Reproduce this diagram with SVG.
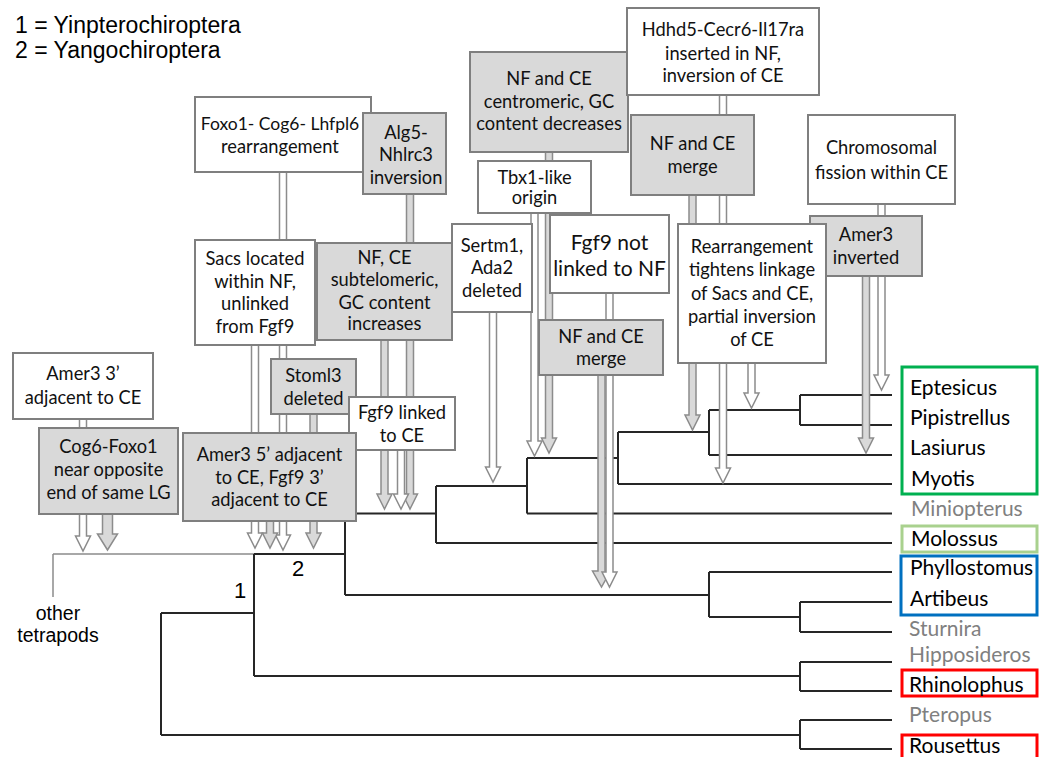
<svg xmlns="http://www.w3.org/2000/svg" width="1045" height="757" viewBox="0 0 1045 757">
<style>
.bw{fill:#fff;stroke:#7f7f7f;stroke-width:2}
.bg{fill:#d9d9d9;stroke:#7f7f7f;stroke-width:2}
.t{font-family:Lato,"Open Sans",sans-serif;font-size:18.3px;fill:#111;text-anchor:middle}
.aw{fill:#fff;stroke:#8c8c8c;stroke-width:1.5;stroke-linejoin:miter}
.ag{fill:#d9d9d9;stroke:#8c8c8c;stroke-width:1.5;stroke-linejoin:miter}
.tr{stroke:#262626;stroke-width:2;fill:none}
.og{stroke:#8c8c8c;stroke-width:1.5;fill:none}
.tx{font-family:Lato,"Open Sans",sans-serif;font-size:21px;fill:#000}
.txg{font-family:Lato,"Open Sans",sans-serif;font-size:21px;fill:#808080}
.ar{font-family:"Liberation Sans",Arial,sans-serif;fill:#000}
.cb{fill:none;stroke-width:3}
</style>
<g id="legend">
<text class="ar" x="15" y="33" font-size="23">1 = Yinpterochiroptera</text>
<text class="ar" x="15" y="58" font-size="23">2 = Yangochiroptera</text>
</g>
<g id="tree">
<path class="og" d="M53,554 H254 M53,554 V597"/>
<path class="tr" d="M800,395 H892 M800,425 H892 M800,395 V425 M709,410 H800 M709,455 H892 M709,410 V455 M618,432 H709 M618,484 H892 M618,432 V484 M527,458 H618 M527,513.5 H892 M527,458 V513.5 M436,486 H527 M436,543 H892 M436,486 V543 M345,513.5 H436 M345,513.5 V595 M345,595 H709 M709,572 V617 M709,572 H892 M709,617 H800 M800,602 V632 M800,602 H892 M800,632 H892 M254,554 H345 M254,554 V676 M254,676 H800 M800,662 V691 M800,662 H892 M800,691 H892 M161,613 H254 M161,613 V735 M161,735 H800 M800,720 V749 M800,720 H892 M800,749 H892"/>
<text class="ar" x="298" y="576" font-size="22" text-anchor="middle">2</text>
<text class="ar" x="240" y="598" font-size="22" text-anchor="middle">1</text>
<text class="ar" x="58" y="620" font-size="19.5" text-anchor="middle">other</text>
<text class="ar" x="58" y="642" font-size="19.5" text-anchor="middle">tetrapods</text>
</g>
<g id="connectors">
<polygon class="aw" points="79.5,415 79.5,536 75.5,536 83,551 90.5,536 86.5,536 86.5,415"/>
<polygon class="ag" points="102.5,510 102.5,534 97.5,534 107.5,550 117.5,534 112.5,534 112.5,510"/>
<polygon class="aw" points="279.5,168 279.5,535 275.5,535 283,550 290.5,535 286.5,535 286.5,168"/>
<polygon class="ag" points="406.5,190 406.5,494 402.5,494 410,509 417.5,494 413.5,494 413.5,190"/>
<polygon class="aw" points="251.5,341 251.5,533 247.5,533 255,548 262.5,533 258.5,533 258.5,341"/>
<polygon class="ag" points="381,336 381,494 377,494 384.5,509 392,494 388,494 388,336"/>
<polygon class="ag" points="310,410 310,533 306,533 313.5,548 321,533 317,533 317,410"/>
<polygon class="ag" points="266.5,517 266.5,533 262.5,533 270,548 277.5,533 273.5,533 273.5,517"/>
<polygon class="aw" points="397.5,446 397.5,494 393.5,494 401,509 408.5,494 404.5,494 404.5,446"/>
<polygon class="aw" points="489.5,308 489.5,467 485.5,467 493,482 500.5,467 496.5,467 496.5,308"/>
<polygon class="ag" points="545.5,148 545.5,438 541.5,438 549,453 556.5,438 552.5,438 552.5,148"/>
<polygon class="aw" points="531,209 531,441 527,441 534.5,456 542,441 538,441 538,209"/>
<polygon class="ag" points="598,371 598,571 592.5,571 601.5,587 610.5,571 605,571 605,371"/>
<polygon class="aw" points="606,289 606,572 602,572 609.5,587 617,572 613,572 613,289"/>
<polygon class="aw" points="719.5,91 719.5,468 715.5,468 723,483 730.5,468 726.5,468 726.5,91"/>
<polygon class="ag" points="689,191 689,415 685,415 692.5,430 700,415 696,415 696,191"/>
<polygon class="aw" points="748,359 748,393 744,393 751.5,408 759,393 755,393 755,359"/>
<polygon class="aw" points="878,200 878,375 874,375 881.5,390 889,375 885,375 885,200"/>
<polygon class="ag" points="862.5,272 862.5,438 858.5,438 866,453 873.5,438 869.5,438 869.5,272"/>
</g>
<g id="n-amer3-3"><rect class="bw" x="13" y="353" width="140" height="66"/><text class="t"><tspan x="83" y="380">Amer3 3’</tspan><tspan x="83" y="403.5">adjacent to CE</tspan></text></g>
<g id="n-cog6-foxo1"><rect class="bg" x="39" y="428" width="139" height="86"/><text class="t"><tspan x="108.5" y="453">Cog6-Foxo1</tspan><tspan x="108.5" y="476">near opposite</tspan><tspan x="108.5" y="498.5">end of same LG</tspan></text></g>
<g id="n-foxo1-cog6-lhfpl6"><rect class="bw" x="195" y="97" width="176" height="75"/><text class="t"><tspan x="280" y="129.5" style="font-size:17.5px">Foxo1- Cog6- Lhfpl6</tspan><tspan x="280" y="152.5">rearrangement</tspan></text></g>
<g id="n-alg5"><rect class="bg" x="363" y="113" width="83" height="81"/><text class="t"><tspan x="406" y="138.5">Alg5-</tspan><tspan x="406" y="161">Nhlrc3</tspan><tspan x="406" y="183.5">inversion</tspan></text></g>
<g id="n-sacs"><rect class="bw" x="195" y="240" width="120" height="105"/><text class="t"><tspan x="255" y="265">Sacs located</tspan><tspan x="255" y="287.5">within NF,</tspan><tspan x="255" y="310">unlinked</tspan><tspan x="255" y="332.5">from Fgf9</tspan></text></g>
<g id="n-subtelomeric"><rect class="bg" x="317" y="243" width="135" height="97"/><text class="t"><tspan x="384.5" y="264">NF, CE</tspan><tspan x="384.5" y="286">subtelomeric,</tspan><tspan x="384.5" y="308.5">GC content</tspan><tspan x="384.5" y="330">increases</tspan></text></g>
<g id="n-stoml3"><rect class="bg" x="271" y="359" width="85" height="55"/><text class="t"><tspan x="313.5" y="382">Stoml3</tspan><tspan x="313.5" y="405">deleted</tspan></text></g>
<g id="n-fgf9-linked"><rect class="bw" x="349" y="397" width="106" height="53"/><text class="t"><tspan x="402" y="418.5">Fgf9 linked</tspan><tspan x="402" y="441.5">to CE</tspan></text></g>
<g id="n-amer3-5"><rect class="bg" x="183" y="433" width="173" height="88"/><text class="t"><tspan x="269.5" y="460.5">Amer3 5’ adjacent</tspan><tspan x="269.5" y="483.5">to CE, Fgf9 3’</tspan><tspan x="269.5" y="506">adjacent to CE</tspan></text></g>
<g id="n-sertm1"><rect class="bw" x="452" y="224" width="80" height="88"/><text class="t"><tspan x="492" y="251.5">Sertm1,</tspan><tspan x="492" y="274">Ada2</tspan><tspan x="492" y="296.5">deleted</tspan></text></g>
<g id="n-centromeric"><rect class="bg" x="470" y="52" width="158" height="100"/><text class="t"><tspan x="549" y="85">NF and CE</tspan><tspan x="549" y="107.5">centromeric, GC</tspan><tspan x="549" y="129.5">content decreases</tspan></text></g>
<g id="n-tbx1"><rect class="bw" x="478" y="161" width="113" height="52"/><text class="t"><tspan x="534.5" y="183.5">Tbx1-like</tspan><tspan x="534.5" y="204">origin</tspan></text></g>
<g id="n-fgf9-not"><rect class="bw" x="550" y="215" width="119" height="78"/><text class="t" style="font-size:21px"><tspan x="609.5" y="250">Fgf9 not</tspan><tspan x="609.5" y="275.5">linked to NF</tspan></text></g>
<g id="n-merge-lower"><rect class="bg" x="539" y="320" width="124" height="55"/><text class="t"><tspan x="601" y="343">NF and CE</tspan><tspan x="601" y="365">merge</tspan></text></g>
<g id="n-hdhd5"><rect class="bw" x="627" y="8" width="192" height="87"/><text class="t"><tspan x="723" y="36">Hdhd5-Cecr6-Il17ra</tspan><tspan x="723" y="59.5">inserted in NF,</tspan><tspan x="723" y="82">inversion of CE</tspan></text></g>
<g id="n-merge-upper"><rect class="bg" x="631" y="115" width="123" height="80"/><text class="t"><tspan x="692.5" y="150">NF and CE</tspan><tspan x="692.5" y="173">merge</tspan></text></g>
<g id="n-fission"><rect class="bw" x="808" y="115" width="147" height="89"/><text class="t"><tspan x="881.5" y="154">Chromosomal</tspan><tspan x="881.5" y="178.5">fission within CE</tspan></text></g>
<g id="n-amer3-inv"><rect class="bg" x="810" y="216" width="112" height="60"/><text class="t"><tspan x="866" y="241">Amer3</tspan><tspan x="866" y="264">inverted</tspan></text></g>
<g id="n-rearrangement"><rect class="bw" x="678" y="224" width="148" height="139"/><text class="t"><tspan x="752" y="253">Rearrangement</tspan><tspan x="752" y="276">tightens linkage</tspan><tspan x="752" y="299.5">of Sacs and CE,</tspan><tspan x="752" y="323">partial inversion</tspan><tspan x="752" y="346">of CE</tspan></text></g>
<g id="taxa">
<rect class="cb" x="902" y="367" width="135" height="127" stroke="#00b050"/>
<rect class="cb" x="902" y="526" width="135" height="26" stroke="#a9d18e"/>
<rect class="cb" x="901" y="556" width="136" height="59" stroke="#0070c0"/>
<rect class="cb" x="902" y="670" width="135" height="26" stroke="#ff0000"/>
<rect class="cb" x="902" y="735" width="135" height="30" stroke="#ff0000"/>
<text class="tx" x="910" y="395">Eptesicus</text>
<text class="tx" x="910" y="425">Pipistrellus</text>
<text class="tx" x="910" y="455">Lasiurus</text>
<text class="tx" x="911" y="486">Myotis</text>
<text class="txg" x="911" y="516">Miniopterus</text>
<text class="tx" x="911" y="546">Molossus</text>
<text class="tx" x="910" y="575">Phyllostomus</text>
<text class="tx" x="910" y="606">Artibeus</text>
<text class="txg" x="909" y="636">Sturnira</text>
<text class="txg" x="909" y="662">Hipposideros</text>
<text class="tx" x="909" y="692">Rhinolophus</text>
<text class="txg" x="909" y="722">Pteropus</text>
<text class="tx" x="909" y="753">Rousettus</text>
</g>
</svg>
